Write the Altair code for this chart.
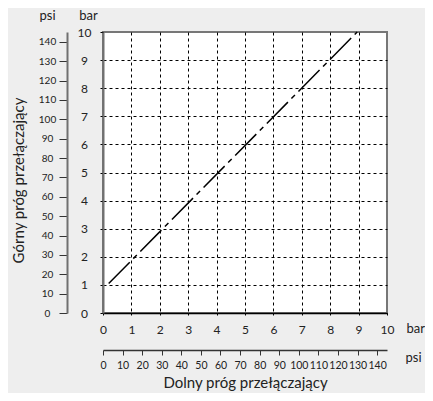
import altair as alt
import pandas as pd

PSI_PER_BAR = 14.5038

bar_ticks = list(range(0, 11))
psi_ticks = list(range(0, 141, 10))

# switching-threshold line (bar)
lower_bar = [0.2, 8.95]
upper_bar = [1.05, 10.0]

FONT = "Lato"

line_df = pd.DataFrame({"lower": lower_bar, "upper": upper_bar})
psi_df = pd.DataFrame({"psi": psi_ticks})

bar_max = 10
psi_max = bar_max * PSI_PER_BAR

grid_hide = alt.condition("datum.value == 10", alt.value(0), alt.value(1))

line = alt.Chart(line_df).mark_line(
    color="black", strokeWidth=1.5, strokeDash=[30, 5, 5, 5]
).encode(
    x=alt.X("lower:Q", scale=alt.Scale(domain=[0, bar_max], nice=False),
            axis=alt.Axis(orient="bottom", values=bar_ticks, title="bar",
                          titleAngle=0, titleX=303, titleY=15, titleAlign="left",
                          titleBaseline="middle", titleFontSize=13, titleFontWeight="normal",
                          grid=True, gridColor="black", gridDash=[3, 3], gridWidth=1,
                          gridOpacity=grid_hide,
                          tickSize=3, tickColor="black", tickDash=[2, 1],
                          domainColor="black", domainWidth=1.5,
                          labelFontSize=12, labelPadding=8, labelFlush=False,
                          labelOverlap=False)),
    y=alt.Y("upper:Q", scale=alt.Scale(domain=[0, bar_max], nice=False),
            axis=alt.Axis(orient="left", values=bar_ticks, title="bar",
                          titleAngle=0, titleX=-15, titleY=-17, titleAlign="center",
                          titleBaseline="middle", titleFontSize=13, titleFontWeight="normal",
                          grid=True, gridColor="black", gridDash=[3, 3], gridWidth=1,
                          gridOpacity=grid_hide,
                          tickSize=6, tickColor="black", tickDash=[3, 3],
                          domainColor="#707070", domainWidth=2,
                          labelFontSize=12, labelPadding=13, labelAlign="center",
                          labelBaseline="middle", labelFlush=False, labelOverlap=False)),
)

psi_layer = alt.Chart(psi_df).mark_point(opacity=0).encode(
    x=alt.X("psi:Q", scale=alt.Scale(domain=[0, psi_max], nice=False),
            axis=alt.Axis(orient="bottom", offset=37, values=psi_ticks, title="psi",
                          titleAngle=0, titleX=302, titleY=7, titleAlign="left",
                          titleBaseline="middle", titleFontSize=13, titleFontWeight="normal",
                          grid=False, tickSize=5, tickColor="#333", domainColor="#333",
                          domainWidth=1.5, labelFontSize=10.5, labelPadding=5,
                          labelFlush=False, labelOverlap=False)),
    y=alt.Y("psi:Q", scale=alt.Scale(domain=[0, psi_max], nice=False),
            axis=alt.Axis(orient="left", offset=36, values=psi_ticks, title="psi",
                          titleAngle=0, titleX=-20, titleY=-17, titleAlign="center",
                          titleBaseline="middle", titleFontSize=13, titleFontWeight="normal",
                          grid=False, tickSize=8, tickColor="#333", domainColor="#707070",
                          domainWidth=2, labelFontSize=10, labelPadding=12,
                          labelAlign="center", labelBaseline="middle",
                          labelFlush=False, labelOverlap=False)),
)

title_layer = alt.Chart(psi_df).mark_point(opacity=0).encode(
    x=alt.X("psi:Q", scale=alt.Scale(domain=[0, psi_max], nice=False),
            axis=alt.Axis(orient="bottom", title="Dolny próg przełączający",
                          domain=False, ticks=False, labels=False, grid=False,
                          titleX=142, titleY=69, titleAlign="center", titleBaseline="middle",
                          titleFontSize=15, titleFontWeight="normal")),
    y=alt.Y("psi:Q", scale=alt.Scale(domain=[0, psi_max], nice=False),
            axis=alt.Axis(orient="left", title="Górny próg przełączający",
                          domain=False, ticks=False, labels=False, grid=False,
                          titleX=-85, titleY=148, titleAngle=-90, titleAlign="center",
                          titleBaseline="middle", titleFontSize=15,
                          titleFontWeight="normal")),
)

chart = alt.layer(line, psi_layer, title_layer).resolve_scale(
    x="independent", y="independent"
).properties(
    width=284, height=281,
    autosize=alt.AutoSizeParams(type="none"),
    padding={"left": 95, "top": 24, "right": 38, "bottom": 80},
    background="#eeeeee",
).configure_view(
    fill="white", stroke="#777777", strokeWidth=2
).configure_axis(
    labelFont=FONT, titleFont=FONT, labelColor="#222222", titleColor="#222222"
)

chart.save("out.html", embed_options={"renderer": "svg", "actions": False})
